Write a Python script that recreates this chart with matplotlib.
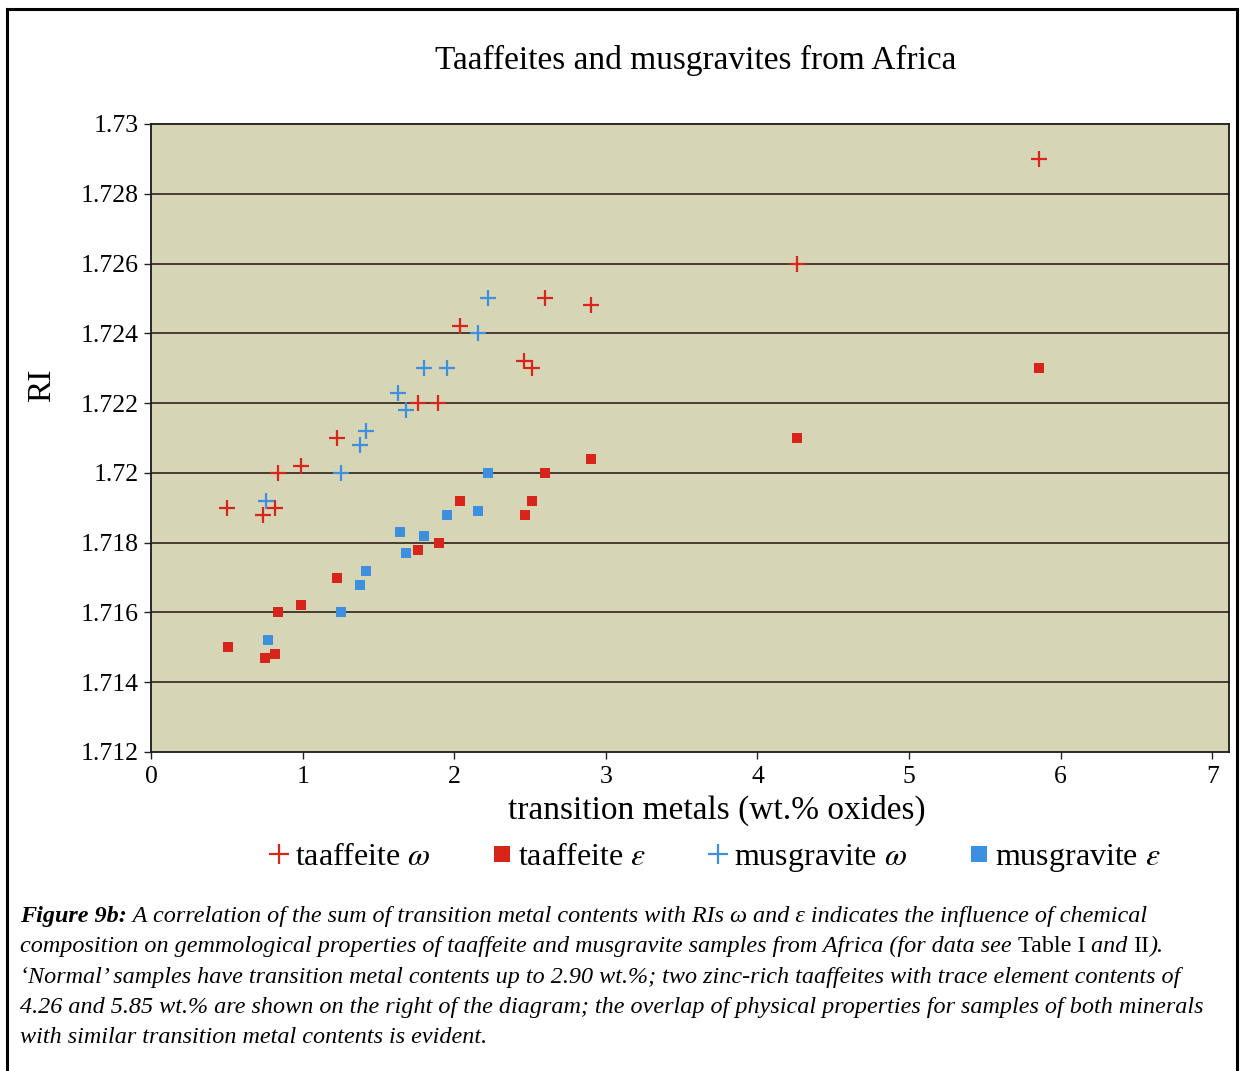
import matplotlib
matplotlib.use("Agg")
import matplotlib.pyplot as plt
from matplotlib.lines import Line2D

# ---- data ----
taaf_omega_x = [0.50, 0.74, 0.82, 0.84, 0.99, 1.23, 1.76, 1.89, 2.04, 2.46, 2.51, 2.60, 2.90, 4.26, 5.86]
taaf_omega_y = [1.7190, 1.7188, 1.7190, 1.7200, 1.7202, 1.7210, 1.7220, 1.7220, 1.7242, 1.7232, 1.7230,
                1.7250, 1.7248, 1.7260, 1.7290]

taaf_eps_x = [0.51, 0.75, 0.82, 0.84, 0.99, 1.23, 1.76, 1.90, 2.04, 2.47, 2.51, 2.60, 2.90, 4.26, 5.86]
taaf_eps_y = [1.7150, 1.7147, 1.7148, 1.7160, 1.7162, 1.7170, 1.7178, 1.7180, 1.7192, 1.7188, 1.7192,
              1.7200, 1.7204, 1.7210, 1.7230]

musg_omega_x = [0.76, 1.25, 1.38, 1.42, 1.63, 1.68, 1.80, 1.95, 2.16, 2.22]
musg_omega_y = [1.7192, 1.7200, 1.7208, 1.7212, 1.7223, 1.7218, 1.7230, 1.7230, 1.7240, 1.7250]

musg_eps_x = [0.77, 1.25, 1.38, 1.42, 1.64, 1.68, 1.80, 1.95, 2.16, 2.22]
musg_eps_y = [1.7152, 1.7160, 1.7168, 1.7172, 1.7183, 1.7177, 1.7182, 1.7188, 1.7189, 1.7200]

y_ticks = [1.712, 1.714, 1.716, 1.718, 1.72, 1.722, 1.724, 1.726, 1.728, 1.73]
x_ticks = [0, 1, 2, 3, 4, 5, 6, 7]

RED = "#d8251c"
BLUE = "#3d8fe0"
BG = "#d6d5b6"
GRID = "#2f2118"

plt.rcParams["font.family"] = ["Liberation Serif", "DejaVu Serif"]
plt.rcParams["mathtext.fontset"] = "stix"

W, H = 1242, 1071
fig = plt.figure(figsize=(W / 100, H / 100), dpi=100)


def fx(px):
    return px / W


def fy(py):
    return 1 - py / H


ax = fig.add_axes([fx(151), fy(752), fx(1229) - fx(151), fy(124) - fy(752)])
ax.set_facecolor(BG)
ax.set_xlim(0, 7.11)
ax.set_ylim(1.712, 1.73)

for yv in y_ticks[1:-1]:
    ax.axhline(yv, color=GRID, lw=1.2, zorder=1)

ax.plot(taaf_omega_x, taaf_omega_y, ls="none", marker="+", ms=11, mew=1.6, color=RED, zorder=3)
ax.plot(taaf_eps_x, taaf_eps_y, ls="none", marker="s", ms=6.8, mew=0, color=RED, zorder=3)
ax.plot(musg_omega_x, musg_omega_y, ls="none", marker="+", ms=11, mew=1.6, color=BLUE, zorder=3)
ax.plot(musg_eps_x, musg_eps_y, ls="none", marker="s", ms=6.8, mew=0, color=BLUE, zorder=3)

ax.set_yticks(y_ticks)
ax.set_yticklabels([f"{v:g}" for v in y_ticks])
ax.set_xticks(x_ticks)
ax.tick_params(axis="both", labelsize=18.5, length=5, width=1.0, color="#222")
ax.tick_params(axis="y", pad=4)
ax.tick_params(axis="x", pad=5)
for s in ax.spines.values():
    s.set_color("#1a1a1a")
    s.set_linewidth(1.3)

fig.text(fx(696), fy(60), "Taaffeites and musgravites from Africa", ha="center", va="center", fontsize=24)
fig.text(fx(42), fy(385), "RI", rotation=90, ha="center", va="center", fontsize=24)
fig.text(fx(717), fy(810), "transition metals (wt.% oxides)", ha="center", va="center", fontsize=24)

handles = [
    Line2D([], [], ls="none", marker="+", ms=14, mew=1.6, color=RED, label=r"taaffeite $\omega$"),
    Line2D([], [], ls="none", marker="s", ms=11, mew=0, color=RED, label=r"taaffeite $\varepsilon$"),
    Line2D([], [], ls="none", marker="+", ms=14, mew=1.6, color=BLUE, label=r"musgravite $\omega$"),
    Line2D([], [], ls="none", marker="s", ms=11, mew=0, color=BLUE, label=r"musgravite $\varepsilon$"),
]
fig.legend(handles=handles, loc="center", bbox_to_anchor=(fx(715), fy(858)), ncol=4, frameon=False,
           fontsize=23, handlelength=0.6, handletextpad=0.2, columnspacing=1.95)

# ---- caption, drawn piece by piece so styles can change inside a line ----
caption = [
    [("Figure 9b:", "bold"), (" A correlation of the sum of transition metal contents with RIs \u03c9 and \u03b5 "
                              "indicates the influence of chemical", "it")],
    [("composition on gemmological properties of taaffeite and musgravite samples from Africa (for data see ", "it"),
     ("Table I", "rm"), (" and ", "it"), ("II", "rm"), (").", "it")],
    [("\u2018Normal\u2019 samples have transition metal contents up to 2.90 wt.%; two zinc-rich taaffeites with "
      "trace element contents of", "it")],
    [("4.26 and 5.85 wt.% are shown on the right of the diagram; the overlap of physical properties for samples "
      "of both minerals", "it")],
    [("with similar transition metal contents is evident.", "it")],
]
renderer = fig.canvas.get_renderer()
cap_size = 17.4
for i, line in enumerate(caption):
    x = 20
    base = 922 + i * 30.3
    for txt, style in line:
        kw = dict(fontsize=cap_size, va="baseline", ha="left")
        if style == "bold":
            kw.update(fontstyle="italic", fontweight="bold")
        elif style == "it":
            kw.update(fontstyle="italic")
        t = fig.text(fx(x), fy(base), txt, **kw)
        x += t.get_window_extent(renderer).width

# frame around the figure
for xs, ys in [((7, 7), (9, H + 5)), ((1237, 1237), (9, H + 5)), ((7, 1237), (9, 9))]:
    fig.add_artist(Line2D([fx(v) for v in xs], [fy(v) for v in ys], color="black", lw=2.2))

fig.savefig("out.png", dpi=100, facecolor="white")
